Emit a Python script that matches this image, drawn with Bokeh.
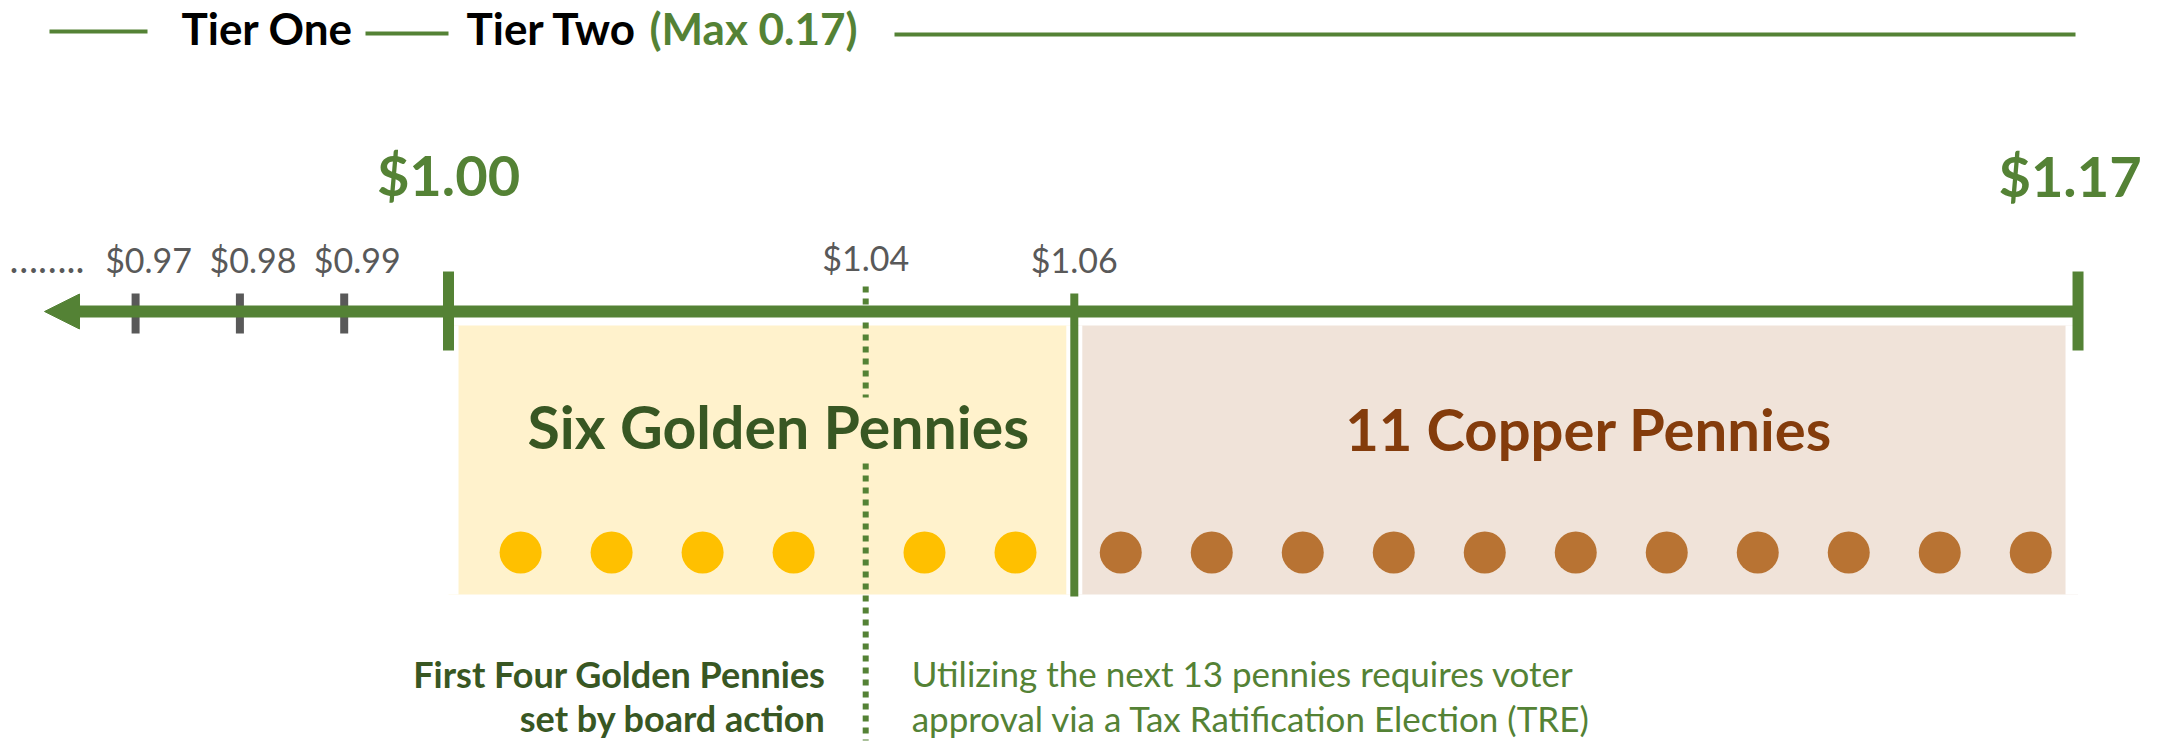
from bokeh.plotting import figure
from bokeh.models import Range1d, Arrow, NormalHead
from bokeh.core.properties import value
from bokeh.embed import file_html
from bokeh.resources import INLINE

# ---------------- data ----------------
minor_ticks = [0.97, 0.98, 0.99]
minor_labels = ["$0.97", "$0.98", "$0.99"]
tier_start, tier_start_label = 1.00, "$1.00"
tier_max, tier_max_label = 1.17, "$1.17"
board_limit, board_label = 1.04, "$1.04"
golden_limit, golden_label = 1.06, "$1.06"
board_pennies = [1, 2, 3, 4]                              # cents above $1.00
golden_tre_pennies = [5, 6]
copper_pennies = [7, 8, 9, 10, 11, 12, 13, 14, 15, 16, 17]
header_texts = ["Tier One", "Tier Two", "(Max 0.17)"]
region_labels = ["Six Golden Pennies", "11 Copper Pennies"]
note_left = ["First Four Golden Pennies", "set by board action"]
note_right = ["Utilizing the next 13 pennies requires voter",
              "approval via a Tax Ratification Election (TRE)"]
leader_dots = "\u2026\u2026.."

# ---------------- styles ----------------
GREEN = "#548235"
DKGREEN = "#385723"
GRAY = "#595959"
GOLD = "#FFC000"
GOLD_BG = "#FFF2CC"
COPPER = "#B87333"
COPPER_BG = "#F0E3D9"
COPPER_TXT = "#843C0C"
FONT = value("Lato")

W, H = 2165, 742
X0, Y0 = 0, 0  # layout coordinates are page pixels

# piecewise schematic scale: Tier One part and Tier Two (copper) part
L_ANCHOR_PX, L_PPD = 448.0, 10430.0   # $1.00 position, px per dollar
R_ANCHOR_PX, R_PPD = 1073.0, 9132.0   # $1.06 position, px per dollar
COIN_PITCH = 91.0                     # px between coins


def left_val(px):
    return tier_start + (px - L_ANCHOR_PX) / L_PPD


def right_val(px):
    return golden_limit + (px - R_ANCHOR_PX) / R_PPD


def bl(y, size):
    # baseline compensation for text placement
    return y - 0.37 * size


def coin_row(cents, ppd):
    lo, hi = min(cents) - 1, max(cents)
    centre = tier_start + (lo + hi) / 200.0
    mid = (len(cents) - 1) / 2.0
    return [centre + (k - mid) * COIN_PITCH / ppd for k in range(len(cents))]


p = figure(width=W, height=H,
           x_range=Range1d(left_val(X0), left_val(X0 + W)),
           y_range=Range1d(Y0 + H, Y0),
           x_axis_location=None, y_axis_location=None,
           output_backend="svg", toolbar_location=None, min_border=0)
p.extra_x_ranges = {"tier2": Range1d(right_val(X0), right_val(X0 + W)),
                    "px": Range1d(X0, X0 + W)}
p.grid.visible = False
p.outline_line_color = None
p.background_fill_color = "white"
p.border_fill_color = "white"

# ---------- header ----------
HS = 44
p.segment(x0=[49, 365, 894], x1=[147, 448, 2075], y0=[31, 33, 34], y1=[31, 33, 34],
          line_width=4, line_color=GREEN, x_range_name="px")
p.text(x=[181, 466], y=[bl(44, HS)] * 2, text=header_texts[:2], text_font=FONT,
       text_font_style="bold", text_font_size=f"{HS}px", text_color="black",
       text_baseline="alphabetic", text_align="left", x_range_name="px")
p.text(x=[649], y=[bl(44, HS)], text=[header_texts[2]], text_font=FONT,
       text_font_style="bold", text_font_size=f"{HS}px", text_color=GREEN,
       text_baseline="alphabetic", text_align="left", x_range_name="px")

# ---------- regions ----------
p.quad(left=[tier_start], right=[golden_limit], top=[325], bottom=[594],
       fill_color=GOLD_BG, line_color=None)
p.quad(left=[golden_limit], right=[tier_max], top=[325], bottom=[594],
       fill_color=COPPER_BG, line_color=None, x_range_name="tier2")
# white separations
p.segment(x0=[tier_start], x1=[tier_start], y0=[325], y1=[594],
          line_width=20, line_color="white")
p.segment(x0=[golden_limit], x1=[golden_limit], y0=[325], y1=[594],
          line_width=16, line_color="white")
p.segment(x0=[tier_max], x1=[tier_max], y0=[325], y1=[594],
          line_width=25, line_color="white", x_range_name="tier2")

# ---------- board-action dotted line ----------
p.segment(x0=[board_limit, board_limit], x1=[board_limit, board_limit],
          y0=[286, 463], y1=[397, 740], line_width=6, line_color=GREEN,
          line_dash="6 6")

# ---------- number line ----------
arrow = Arrow(end=NormalHead(size=35, fill_color=GREEN, line_color=GREEN),
              x_start=golden_limit, y_start=311, x_end=left_val(44), y_end=311,
              line_color=GREEN, line_width=12)
p.add_layout(arrow)
p.segment(x0=[golden_limit], x1=[tier_max], y0=[311], y1=[311],
          line_width=12, line_color=GREEN, x_range_name="tier2")

p.segment(x0=minor_ticks, x1=minor_ticks, y0=293, y1=333,
          line_width=8, line_color=GRAY)
p.segment(x0=[tier_start], x1=[tier_start], y0=[271], y1=[350],
          line_width=11, line_color=GREEN)
p.segment(x0=[tier_max], x1=[tier_max], y0=[271], y1=[350],
          line_width=11, line_color=GREEN, x_range_name="tier2")
p.segment(x0=[golden_limit], x1=[golden_limit], y0=[293], y1=[596],
          line_width=8, line_color=GREEN)

# ---------- tick labels ----------
TS = 34
p.text(x=minor_ticks, y=bl(272, TS), text=minor_labels, x_offset=13, text_align="center",
       text_baseline="alphabetic", text_font=FONT, text_font_size=f"{TS}px",
       text_color=GRAY)
p.text(x=[84], y=[bl(272, 38)], text=[leader_dots], text_align="right",
       text_baseline="alphabetic", text_font=FONT, text_font_size="38px",
       text_color=GRAY, x_range_name="px")
p.text(x=[board_limit, golden_limit], y=[bl(270, TS), bl(272, TS)],
       text=[board_label, golden_label],
       text_align="center", text_baseline="alphabetic", text_font=FONT,
       text_font_size=f"{TS}px", text_color=GRAY)
BS = 56
p.text(x=[tier_start], y=[bl(195, BS)], text=[tier_start_label], text_align="center",
       text_baseline="alphabetic", text_font=FONT, text_font_style="bold",
       text_font_size=f"{BS}px", text_color=GREEN)
p.text(x=[tier_max], y=[bl(196, BS)], text=[tier_max_label], x_offset=-8,
       text_align="center", text_baseline="alphabetic", text_font=FONT,
       text_font_style="bold", text_font_size=f"{BS}px", text_color=GREEN,
       x_range_name="tier2")

# ---------- region labels ----------
p.text(x=[(tier_start + golden_limit) / 2], y=[bl(448, 59)], text=[region_labels[0]],
       x_offset=17, text_align="center", text_baseline="alphabetic", text_font=FONT,
       text_font_style="bold", text_font_size="59px", text_color=DKGREEN)
p.text(x=[(golden_limit + tier_max) / 2], y=[bl(449, 58)], text=[region_labels[1]],
       x_offset=13, text_align="center", text_baseline="alphabetic", text_font=FONT,
       text_font_style="bold", text_font_size="58px", text_color=COPPER_TXT,
       x_range_name="tier2")

# ---------- pennies ----------
gx = coin_row(board_pennies, L_PPD) + coin_row(golden_tre_pennies, L_PPD)
cx = coin_row(copper_pennies, R_PPD)
p.scatter(x=gx, y=[552] * len(gx), size=42, marker="circle",
          fill_color=GOLD, line_color=None)
p.scatter(x=cx, y=[552] * len(cx), size=42, marker="circle",
          fill_color=COPPER, line_color=None, x_range_name="tier2")

# ---------- notes ----------
p.text(x=[board_limit] * 2, y=[bl(687, 36), bl(731, 36)], text=note_left, x_offset=-40,
       text_align="right", text_baseline="alphabetic", text_font=FONT,
       text_font_style="bold", text_font_size="36px", text_color=DKGREEN)
p.text(x=[board_limit] * 2, y=[bl(685, 35), bl(730, 35)], text=note_right, x_offset=46,
       text_align="left", text_baseline="alphabetic", text_font=FONT,
       text_font_size="35px", text_color=GREEN)

open("out.html", "w").write(file_html(p, INLINE))
